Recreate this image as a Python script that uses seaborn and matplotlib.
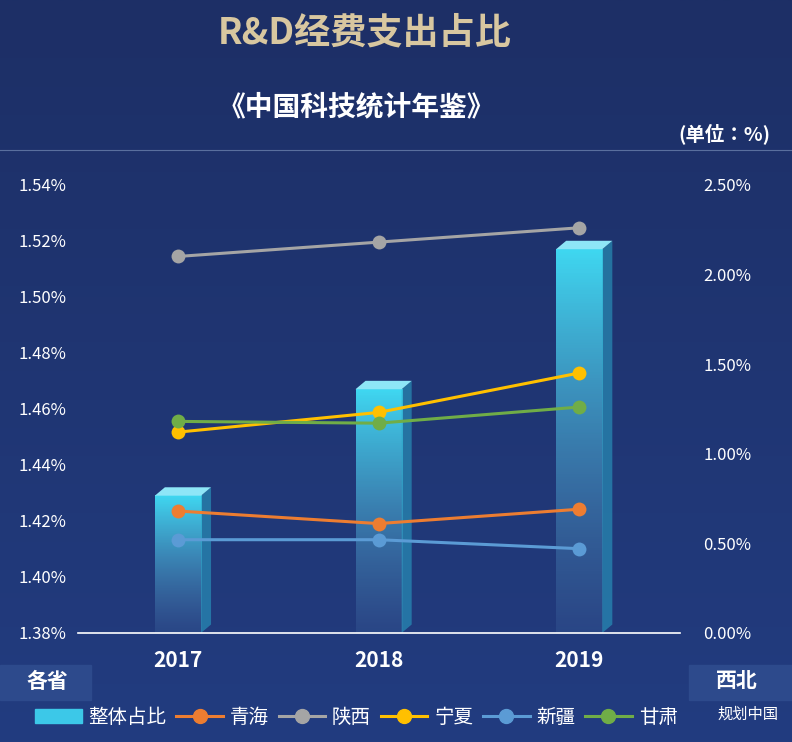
import matplotlib
matplotlib.use("Agg")
import matplotlib.pyplot as plt
from matplotlib import font_manager as fm
from matplotlib.patches import Polygon, Rectangle
from matplotlib.lines import Line2D
import numpy as np
import pandas as pd
import seaborn as sns

cjk = None
for f in sorted(fm.findSystemFonts()):
    if "CJK" in f and "Sans" in f:
        fm.fontManager.addfont(f)
        name = fm.FontProperties(fname=f).get_name()
        if cjk is None or name == "Noto Sans CJK SC":
            cjk = name
plt.rcParams["font.sans-serif"] = [cjk or "Noto Sans CJK SC", "DejaVu Sans"]
plt.rcParams["font.family"] = "sans-serif"

years = ["2017", "2018", "2019"]
overall = [1.429, 1.467, 1.517]  # 整体占比, left axis
provinces = ["青海", "陕西", "宁夏", "新疆", "甘肃"]
qinghai = [0.68, 0.61, 0.69]
shaanxi = [2.10, 2.18, 2.26]
ningxia = [1.12, 1.23, 1.45]
xinjiang = [0.52, 0.52, 0.47]
gansu = [1.18, 1.17, 1.26]
colors = ["#ED7D31", "#A5A5A5", "#FFC000", "#5B9BD5", "#70AD47"]
left_ticks = [1.38, 1.40, 1.42, 1.44, 1.46, 1.48, 1.50, 1.52, 1.54]
right_ticks = [0.0, 0.5, 1.0, 1.5, 2.0, 2.5]

fig = plt.figure(figsize=(7.92, 7.42), dpi=100)

# background gradient
bg = fig.add_axes([0, 0, 1, 1], zorder=-10)
grad = np.linspace(0, 1, 256).reshape(-1, 1)
bg.imshow(grad, aspect="auto", cmap=matplotlib.colors.LinearSegmentedColormap.from_list(
    "bg", ["#1d2f66", "#223c80"]), extent=[0, 1, 0, 1])
bg.axis("off")
bg.plot([0, 1], [0.798, 0.798], color="#5a6f9e", lw=0.8)

fig.text(0.46, 0.955, "R&D经费支出占比", color="#d8c7a0", fontsize=26,
         fontweight="bold", ha="center", va="center")
fig.text(0.45, 0.855, "《中国科技统计年鉴》", color="white", fontsize=20,
         fontweight="bold", ha="center", va="center")
fig.text(0.915, 0.82, "(单位：%)", color="white", fontsize=14,
         fontweight="bold", ha="center", va="center")

ax = fig.add_axes([0.098, 0.147, 0.76, 0.604])
ax.set_facecolor("none")
df = pd.DataFrame({"year": years, "overall": overall})
sns.barplot(data=df, x="year", y="overall", ax=ax, width=0.23,
            color="#3cc8e8", alpha=0.0)
ax.set_ylim(1.38, 1.54)
ax.set_xlim(-0.5, 2.5)

# gradient front faces + 3D top/side
cmap = matplotlib.colors.LinearSegmentedColormap.from_list(
    "bar", [(0.35, 0.55, 0.75, 0.15), (0.25, 0.85, 0.95, 1.0)])
dx, dy = 0.05, 0.003
for p in ax.patches:
    x0, w, h = p.get_x(), p.get_width(), p.get_height()
    top = p.get_y() + h
    ax.imshow(grad, aspect="auto", cmap=cmap, origin="lower",
              extent=[x0, x0 + w, 1.38, top], zorder=2)
    ax.add_patch(Polygon([[x0 + w, 1.38], [x0 + w + dx, 1.38 + dy],
                          [x0 + w + dx, top + dy], [x0 + w, top]],
                         closed=True, color="#2aa6c8", alpha=0.55, zorder=2, lw=0))
    ax.add_patch(Polygon([[x0, top], [x0 + dx, top + dy],
                          [x0 + w + dx, top + dy], [x0 + w, top]],
                         closed=True, color="#8ee6f7", zorder=2, lw=0))
ax.set_xlim(-0.5, 2.5)
ax.set_ylim(1.38, 1.54)

ax.set_yticks(left_ticks)
ax.set_yticklabels([f"{v:.2f}%" for v in left_ticks])
ax.tick_params(axis="y", colors="white", labelsize=12, length=0, pad=8)
ax.tick_params(axis="x", colors="white", labelsize=15, length=0, pad=12)
for t in ax.get_xticklabels():
    t.set_fontweight("bold")
for s in ["top", "left", "right"]:
    ax.spines[s].set_visible(False)
ax.spines["bottom"].set_color("white")
ax.spines["bottom"].set_linewidth(1.2)
ax.set_xlabel("")
ax.set_ylabel("")

ax2 = ax.twinx()
series = [qinghai, shaanxi, ningxia, xinjiang, gansu]
xs = np.arange(len(years))
for name, vals, c in zip(provinces, series, colors):
    sns.lineplot(x=xs, y=vals, ax=ax2, color=c, lw=2.2, marker="o",
                 markersize=10, markeredgewidth=0, label=name, legend=False)
ax2.set_ylim(0, 2.5)
ax2.set_yticks(right_ticks)
ax2.set_yticklabels([f"{v:.2f}%" for v in right_ticks])
ax2.tick_params(axis="y", colors="white", labelsize=12, length=0, pad=17)
for s in ax2.spines.values():
    s.set_visible(False)
ax2.set_ylabel("")
ax.set_xlim(-0.5, 2.5)

# side labels
fig.patches.append(Rectangle((0.0, 0.057), 0.115, 0.047, transform=fig.transFigure,
                             color="#2d4a8c", zorder=1))
fig.text(0.06, 0.081, "各省", color="white", fontsize=15, fontweight="bold",
         ha="center", va="center")
fig.patches.append(Rectangle((0.87, 0.057), 0.13, 0.047, transform=fig.transFigure,
                             color="#2d4a8c", zorder=1))
fig.text(0.93, 0.083, "西北", color="white", fontsize=15, fontweight="bold",
         ha="center", va="center")

handles = [Rectangle((0, 0), 1, 1, color="#3cc8e8")]
handles += [Line2D([0], [0], color=c, lw=2.2, marker="o", markersize=10) for c in colors]
fig.legend(handles, ["整体占比"] + provinces, loc="center", bbox_to_anchor=(0.45, 0.033),
           ncol=6, frameon=False, fontsize=14, labelcolor="white",
           handlelength=2.4, columnspacing=0.5, handletextpad=0.35)
fig.text(0.945, 0.038, "规划中国", color="white", fontsize=11, ha="center", va="center")

fig.savefig("out.png", dpi=100)
